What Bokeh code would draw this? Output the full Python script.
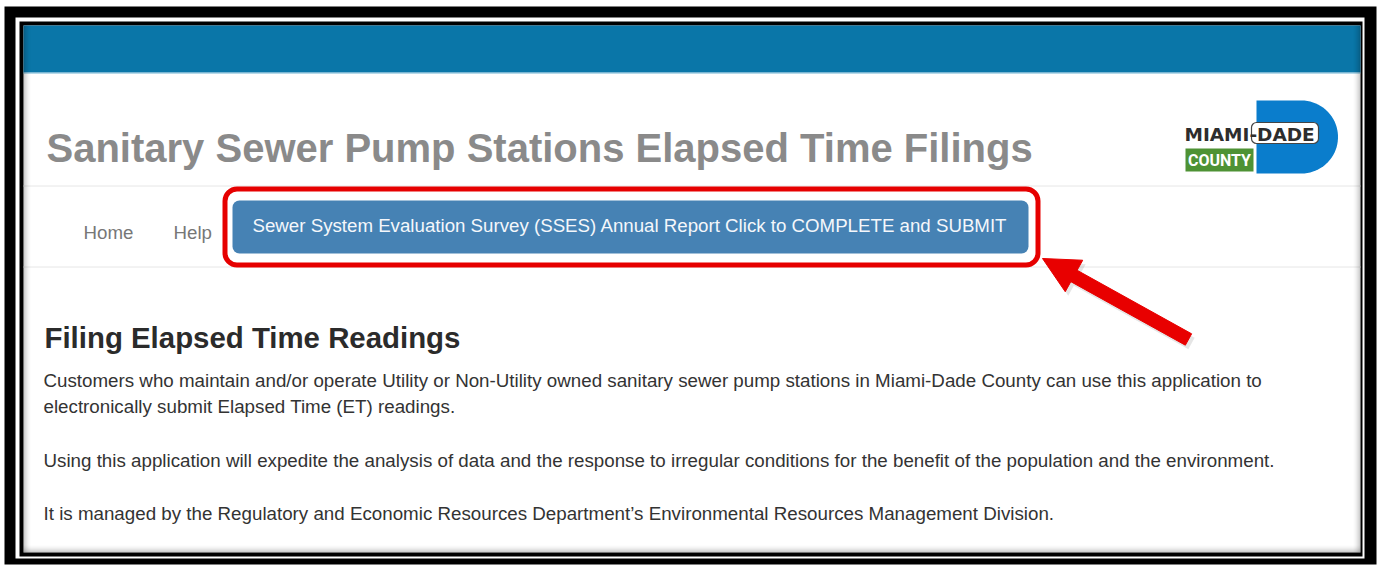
import numpy as np
from bokeh.plotting import figure
from bokeh.models import Range1d
from bokeh.core.properties import value
from bokeh.embed import file_html
from bokeh.resources import INLINE

# ---- page texts ----
title_text = "Sanitary Sewer Pump Stations Elapsed Time Filings"
nav_items = ["Home", "Help"]
button_text = "Sewer System Evaluation Survey (SSES) Annual Report Click to COMPLETE and SUBMIT"
heading_text = "Filing Elapsed Time Readings"
paragraph_lines = [
    "Customers who maintain and/or operate Utility or Non-Utility owned sanitary sewer pump stations in Miami-Dade County can use this application to",
    "electronically submit Elapsed Time (ET) readings.",
    "Using this application will expedite the analysis of data and the response to irregular conditions for the benefit of the population and the environment.",
    "It is managed by the Regulatory and Economic Resources Department\u2019s Environmental Resources Management Division.",
]
logo_words = ["MIAMI-DADE", "COUNTY"]

W, H = 1380, 568
p = figure(width=W, height=H, x_range=Range1d(0, W), y_range=Range1d(H, 0),
           output_backend="svg", toolbar_location=None, min_border=0,
           x_axis_location=None, y_axis_location=None)
p.grid.visible = False
p.outline_line_color = None
p.background_fill_color = "white"
p.border_fill_color = "white"

FONT = value("Liberation Sans")

# ---- screenshot frame ----
p.quad(left=[4], right=[1376], top=[6], bottom=[564], fill_color="black", line_color=None)
p.quad(left=[15], right=[1364], top=[17], bottom=[558], fill_color="white", line_color=None)
p.quad(left=[19], right=[1362], top=[21], bottom=[556], fill_color="black", line_color=None)
p.quad(left=[23], right=[1360], top=[25], bottom=[552], fill_color="white", line_color=None)

# top blue bar
p.quad(left=[23], right=[1360], top=[25], bottom=[72], fill_color="#0a76a8", line_color=None)
p.segment(x0=[23], y0=[72.5], x1=[1360], y1=[72.5], line_color="#6fb3d3", line_width=1)

# separators
p.segment(x0=[23, 23], y0=[185.5, 266.5], x1=[1360, 1360], y1=[185.5, 266.5],
          line_color="#e6e6e6", line_width=1)

# ---- title ----
p.text(x=[46], y=[147], text=[title_text], text_font=FONT, text_font_size=value("40px"),
       text_font_style="bold", text_color="#8a8a8a", text_baseline="alphabetic", text_align="left")

# ---- logo ----
theta = np.linspace(-np.pi / 2, np.pi / 2, 40)
cx, cy, r = 1301, 136.5, 36.5
dx = [1256, cx] + list(cx + r * np.cos(theta)) + [cx, 1256]
dy = [100, 100] + list(cy + r * np.sin(theta)) + [173, 173]
p.patch(dx, dy, fill_color="#0a7dcc", line_color=None)
p.quad(left=[1251], right=[1318], top=[122], bottom=[143], fill_color="white",
       line_color="#444444", line_width=1.2, border_radius=5)
p.text(x=[1184], y=[134], text=[logo_words[0]], text_font=value("DejaVu Sans"),
       text_font_size=value("18.5px"), text_font_style="bold", text_color="#2d2d2d",
       text_baseline="alphabetic", text_align="left")
p.quad(left=[1185], right=[1253], top=[148], bottom=[171], fill_color="#4e9234", line_color=None)
p.text(x=[1219], y=[160], text=[logo_words[1]], text_font=value("Roboto"),
       text_font_size=value("16px"), text_font_style="bold", text_color="white",
       text_baseline="alphabetic", text_align="center")

# ---- nav ----
p.text(x=[83, 173], y=[232, 232], text=nav_items, text_font=FONT, text_font_size=value("18.7px"),
       text_color="#777777", text_baseline="alphabetic", text_align="left")

# button
p.quad(left=[232], right=[1028], top=[200], bottom=[253], fill_color="#4682b4",
       line_color=None, border_radius=7)
p.text(x=[252], y=[225], text=[button_text], text_font=FONT, text_font_size=value("18.7px"),
       text_color="#f4f7fb", text_baseline="alphabetic", text_align="left")

# red highlight
p.quad(left=[224.5], right=[1037.5], top=[188.5], bottom=[264.5], fill_alpha=0,
       line_color="#e60000", line_width=5, border_radius=12)

# ---- arrow ----
tip = np.array([1042.0, 258.0])
tail = np.array([1188.0, 339.0])
u = (tip - tail) / np.linalg.norm(tip - tail)
n = np.array([-u[1], u[0]])
base = tip - u * 36
sw, hw = 6.5, 18
pts = [tip, base + n * hw, base + n * sw, tail + n * sw, tail - n * sw, base - n * sw, base - n * hw]
ax = [pt[0] for pt in pts]
ay = [pt[1] for pt in pts]
p.patch([x + 3 for x in ax], [y + 4 for y in ay], fill_color="black", fill_alpha=0.10, line_color=None)
p.patch(ax, ay, fill_color="#e80000", line_color="#e80000", line_width=1)

# ---- heading and paragraph ----
p.text(x=[44], y=[337], text=[heading_text], text_font=FONT, text_font_size=value("29.4px"),
       text_font_style="bold", text_color="#2b2b2b", text_baseline="alphabetic", text_align="left")
p.text(x=[43] * 4, y=[380, 406, 460, 513], text=paragraph_lines, text_font=FONT,
       text_font_size=value("18.75px"), text_color="#333333", text_baseline="alphabetic",
       text_align="left")

# ---- inner shadow of the screenshot ----
k = 8
alphas = [0.22 * (1 - i / k) ** 2 for i in range(k)]
for i, a in enumerate(alphas):
    p.segment(x0=[23.5 + i, 1359.5 - i, 23], y0=[25, 25, 551.5 - i],
              x1=[23.5 + i, 1359.5 - i, 1360], y1=[552, 552, 551.5 - i],
              line_color="black", line_alpha=a, line_width=1)

open("out.html", "w").write(file_html(p, INLINE))
